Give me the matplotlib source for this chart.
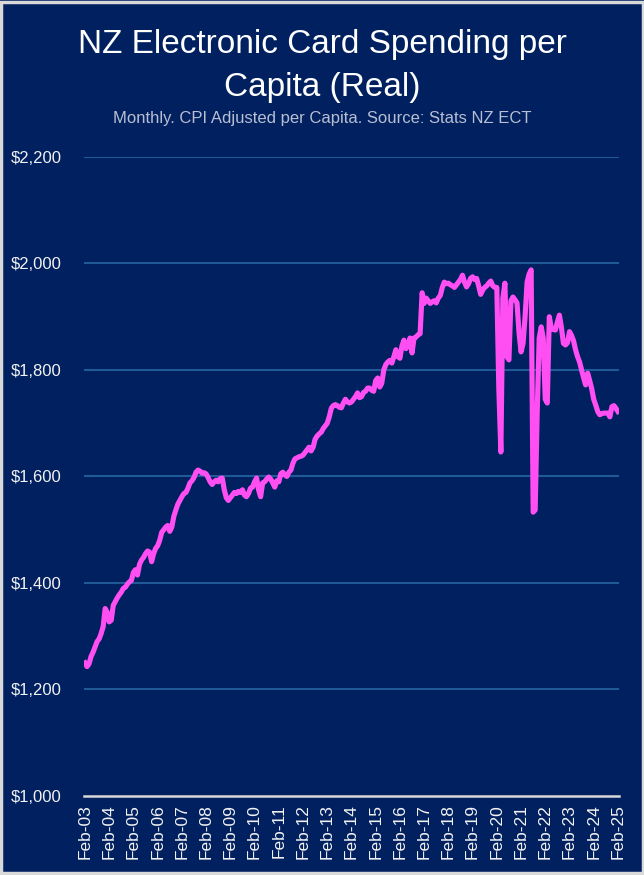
import matplotlib
matplotlib.use("Agg")
import matplotlib.pyplot as plt
import matplotlib.patches as mpatches
import numpy as np
import pandas as pd

# --- Monthly real card spend per capita, Feb-03 .. Feb-25 ---
y2003 = [1250, 1243, 1248, 1262, 1270, 1280, 1290, 1295, 1305, 1318, 1352, 1345]
y2004 = [1327, 1330, 1358, 1365, 1372, 1378, 1383, 1390, 1392, 1398, 1402, 1405]
y2005 = [1420, 1425, 1415, 1435, 1443, 1448, 1455, 1460, 1458, 1440, 1455, 1465]
y2006 = [1470, 1480, 1495, 1500, 1505, 1508, 1497, 1505, 1525, 1537, 1548, 1555]
y2007 = [1562, 1568, 1570, 1578, 1588, 1592, 1598, 1608, 1612, 1610, 1606, 1607]
y2008 = [1605, 1598, 1590, 1585, 1590, 1593, 1590, 1596, 1597, 1575, 1560, 1555]
y2009 = [1560, 1565, 1570, 1568, 1572, 1570, 1575, 1565, 1562, 1568, 1578, 1580]
y2010 = [1590, 1597, 1575, 1562, 1588, 1590, 1595, 1599, 1595, 1588, 1580, 1592]
y2011 = [1590, 1605, 1608, 1603, 1600, 1608, 1612, 1625, 1633, 1635, 1637, 1638]
y2012 = [1640, 1645, 1650, 1655, 1648, 1655, 1670, 1676, 1680, 1683, 1690, 1695]
y2013 = [1700, 1712, 1728, 1733, 1735, 1733, 1730, 1729, 1738, 1745, 1740, 1738]
y2014 = [1740, 1745, 1750, 1757, 1748, 1750, 1758, 1760, 1766, 1766, 1762, 1760]
y2015 = [1780, 1785, 1768, 1775, 1800, 1810, 1815, 1818, 1813, 1825, 1838, 1825]
y2016 = [1822, 1845, 1856, 1840, 1845, 1860, 1832, 1860, 1862, 1866, 1868, 1945]
y2017 = [1925, 1935, 1930, 1925, 1928, 1930, 1926, 1935, 1940, 1955, 1965, 1962]
y2018 = [1963, 1960, 1958, 1955, 1960, 1965, 1970, 1978, 1965, 1956, 1962, 1972]
y2019 = [1975, 1970, 1972, 1958, 1942, 1950, 1955, 1958, 1963, 1967, 1958, 1955]
y2020 = [1955, 1765, 1646, 1935, 1963, 1825, 1819, 1930, 1937, 1932, 1926, 1870]
y2021 = [1834, 1850, 1900, 1965, 1980, 1988, 1533, 1537, 1720, 1860, 1881, 1860]
y2022 = [1745, 1738, 1900, 1878, 1876, 1875, 1890, 1903, 1880, 1850, 1847, 1851]
y2023 = [1872, 1865, 1855, 1838, 1825, 1815, 1800, 1785, 1772, 1794, 1780, 1765]
y2024 = [1745, 1734, 1722, 1716, 1718, 1719, 1719, 1719, 1712, 1731, 1733, 1728]
y2025 = [1722]

spend = (y2003 + y2004 + y2005 + y2006 + y2007 + y2008 + y2009 + y2010 + y2011
         + y2012 + y2013 + y2014 + y2015 + y2016 + y2017 + y2018 + y2019 + y2020
         + y2021 + y2022 + y2023 + y2024 + y2025)
months = pd.date_range("2003-02-01", periods=len(spend), freq="MS")

y_ticks = [1000, 1200, 1400, 1600, 1800, 2000, 2200]
tick_idx = [i for i, d in enumerate(months) if d.month == 2]
tick_labels = [months[i].strftime("Feb-%y") for i in tick_idx]

NAVY = "#002060"
GRID = "#1F5A96"
PINK = "#FF4FF2"

fig = plt.figure(figsize=(6.44, 8.75), dpi=100, facecolor=NAVY)
ax = fig.add_axes([0.1304, 0.0903, 0.8307, 0.7303], facecolor=NAVY)

x = np.arange(len(spend))
ax.plot(x, spend, color=PINK, lw=3.7, solid_joinstyle="round", zorder=3)

ax.set_xlim(-0.5, len(spend) - 0.5)
ax.set_ylim(1000, 2200)
ax.set_yticks(y_ticks)
ax.set_yticklabels([f"${v:,.0f}" for v in y_ticks])
ax.set_xticks(tick_idx)
ax.set_xticklabels(tick_labels, rotation=90)

for v in y_ticks[1:]:
    ax.axhline(v, color=GRID, lw=1.5, zorder=1)

for s in ["top", "right", "left"]:
    ax.spines[s].set_visible(False)
ax.spines["bottom"].set_color("#D9D9D9")
ax.spines["bottom"].set_linewidth(1.8)

ax.tick_params(axis="both", length=0, colors="#F2F2F2", labelsize=12)
ax.tick_params(axis="x", labelsize=12.5)
ax.tick_params(axis="y", pad=16)
ax.tick_params(axis="x", pad=6)
for lab in ax.get_xticklabels() + ax.get_yticklabels():
    lab.set_family(["Liberation Sans", "DejaVu Sans"])

title_font = ["Liberation Sans Narrow", "Liberation Sans", "DejaVu Sans"]
fig.text(0.5, 0.949, "NZ Electronic Card Spending per", ha="center", va="center",
         color="white", fontsize=24, family=title_font)
fig.text(0.5, 0.900, "Capita (Real)", ha="center", va="center",
         color="white", fontsize=24, family=title_font)
fig.text(0.5, 0.865, "Monthly. CPI Adjusted per Capita. Source: Stats NZ ECT",
         ha="center", va="center", color="#B8BFD2", fontsize=12, family=title_font)

# thin light frame round the chart area
fig.patches.append(mpatches.Rectangle((0.002, 0.002), 0.996, 0.996, transform=fig.transFigure,
                                      fill=False, edgecolor="#D9D9D9", lw=2.5))

fig.savefig("out.png", dpi=100, facecolor=NAVY)
